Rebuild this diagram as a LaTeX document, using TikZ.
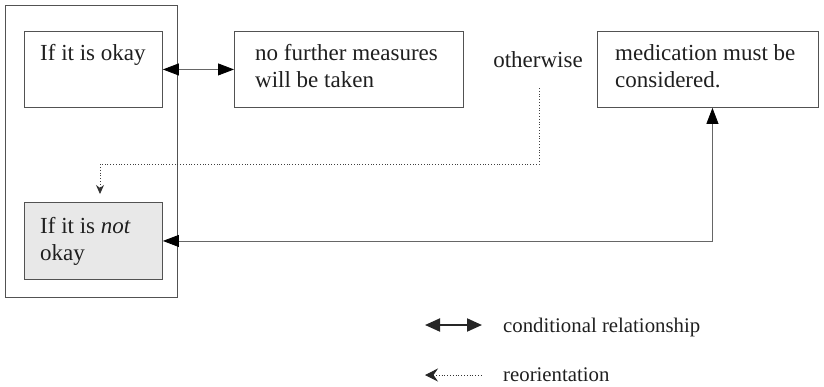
\documentclass[tikz,border=0pt]{standalone}
\usepackage{fontspec}
\setmainfont{Liberation Serif}
\usetikzlibrary{arrows.meta}
\begin{document}
\begin{tikzpicture}[x=1pt,y=-1pt,
  box/.style={draw=black!68, line width=0.9pt, inner sep=0pt, anchor=north west},
  txt/.style={inner sep=0pt, anchor=base west, text=black!88, font=\fontsize{23}{27}\selectfont},
  legtxt/.style={inner sep=0pt, anchor=base west, text=black!88, font=\fontsize{20.8}{25}\selectfont},
  cond/.style={draw=black!60, line width=0.8pt, {Triangle[length=16pt,width=12pt,color=black]}-{Triangle[length=16pt,width=12pt,color=black]}},
  reor/.style={draw=black!75, line width=0.8pt, dotted, -{Stealth[length=9pt,width=8pt,inset=3pt,color=black!80]}},
  legcond/.style={draw=black!85, line width=2pt, {Triangle[length=15pt,width=13pt]}-{Triangle[length=15pt,width=13pt]}},
  legreor/.style={draw=black!80, line width=0.8pt, dotted, {Stealth[length=13pt,width=13pt,inset=4.5pt,color=black!85]}-}]
\useasboundingbox (0,0) rectangle (824,386);
% boxes
\node[box, minimum width=172pt, minimum height=292pt] (outer) at (5,5) {};
\node[box, minimum width=138pt, minimum height=76pt] (ok) at (24,31) {};
\node[box, minimum width=229pt, minimum height=76pt] (nofurther) at (234,31) {};
\node[box, minimum width=221pt, minimum height=76pt] (medic) at (597,31) {};
\node[box, fill=black!9, minimum width=138pt, minimum height=77pt] (notok) at (24,202) {};
% texts
\node[txt] (tok) at (40,60) {If it is okay};
\node[txt] (tnf1) at (255,60) {no further measures};
\node[txt] (tnf2) at (255,87) {will be taken};
\node[txt] (tmed1) at (615,60) {medication must be};
\node[txt] (tmed2) at (615,87) {considered.};
\node[txt] (tno1) at (40,233) {If it is \textit{not}};
\node[txt] (tno2) at (40,260) {okay};
\node[txt, anchor=base] (otherwise) at (538,67) {otherwise};
% connectors
\draw[cond] (ok.east) -- (nofurther.west);
\draw[cond] (notok.east) -| ([xshift=4.5pt]medic.south);
\coordinate (d1) at (539,88);
\coordinate (d2) at (100,164);
\draw[reor, shorten >=8pt] (d1) |- (d2) -- (d2 |- notok.north);
% legend
\coordinate (l1a) at (425,325);
\coordinate (l1b) at (482,325);
\coordinate (l2a) at (425,375);
\coordinate (l2b) at (483,375);
\draw[legcond] (l1a) -- (l1b);
\draw[legreor] (l2a) -- (l2b);
\node[legtxt] (lt1) at (503,332) {conditional relationship};
\node[legtxt] (lt2) at (503,381) {reorientation};
\end{tikzpicture}
\end{document}
